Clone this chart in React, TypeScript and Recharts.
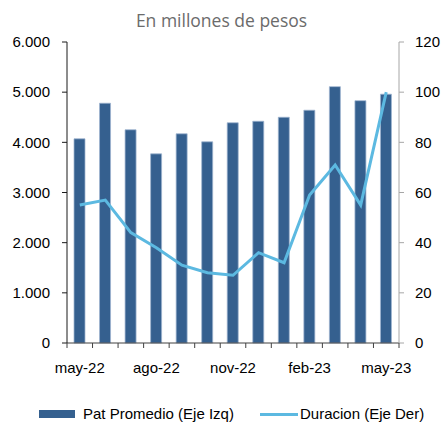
import { ComposedChart, Bar, Line, XAxis, YAxis } from "recharts";

const months = [
  "may-22", "jun-22", "jul-22", "ago-22", "sep-22", "oct-22", "nov-22",
  "dic-22", "ene-23", "feb-23", "mar-23", "abr-23", "may-23",
];
const patPromedio = [4070, 4780, 4250, 3770, 4170, 4010, 4390, 4420, 4500, 4640, 5110, 4830, 4960];
const duracion = [55, 57, 44, 38, 31, 28, 27, 36, 32, 59, 71, 55, 100];
const leftTicks = [0, 1000, 2000, 3000, 4000, 5000, 6000];
const rightTicks = [0, 20, 40, 60, 80, 100, 120];
const labeledMonths = ["may-22", "ago-22", "nov-22", "feb-23", "may-23"];

const data = months.map((m, i) => ({ month: m, pat: patPromedio[i], dur: duracion[i] }));

const W = 443;
const H = 424;
const LEFT_W = 67;
const RIGHT_W = 44;
const band = (W - LEFT_W - RIGHT_W) / months.length;
const font = "'Liberation Sans', Arial, sans-serif";

const BAR_COLOR = "#35608f";
const LINE_COLOR = "#5cb9e1";

function MonthTick(props: any) {
  const { x, y, payload } = props;
  const i = months.indexOf(payload.value);
  const axisY = y - 19;
  const left = x - band / 2;
  return (
    <g>
      <line x1={left} x2={left} y1={axisY} y2={axisY + 5} stroke="#404040" />
      {i === months.length - 1 && (
        <line x1={x + band / 2} x2={x + band / 2} y1={axisY} y2={axisY + 5} stroke="#404040" />
      )}
      {labeledMonths.includes(payload.value) && (
        <text x={x} y={y} dy="0.71em" textAnchor="middle" fill="#000" fontSize={15} fontFamily={font}>
          {payload.value}
        </text>
      )}
    </g>
  );
}

const fmt = (v: number) => v.toLocaleString("de-DE");

export default function App() {
  return (
    <div style={{ position: "absolute", left: 0, top: 0, width: W, height: H, background: "#fff" }}>
      <div
        style={{
          position: "absolute",
          top: 8,
          left: 0,
          width: W,
          textAlign: "center",
          fontFamily: "'Open Sans', sans-serif",
          fontSize: 17.5,
          color: "#6b6b6b",
          lineHeight: "normal",
        }}
      >
        En millones de pesos
      </div>
      <ComposedChart
        width={W}
        height={H}
        data={data}
        margin={{ top: 42, right: 0, left: 0, bottom: 51 }}
        barCategoryGap={0}
      >
        <XAxis
          dataKey="month"
          interval={0}
          height={30}
          tickSize={5}
          tickMargin={14}
          tickLine={false}
          axisLine={{ stroke: "#404040" }}
          tick={<MonthTick />}
        />
        <YAxis
          yAxisId="left"
          width={LEFT_W}
          domain={[0, 6000]}
          ticks={leftTicks}
          tickFormatter={fmt}
          tickSize={5}
          tickMargin={12}
          axisLine={{ stroke: "#1a1a1a" }}
          tickLine={{ stroke: "#1a1a1a" }}
          tick={{ fill: "#000", fontSize: 15, fontFamily: font }}
        />
        <YAxis
          yAxisId="right"
          orientation="right"
          width={RIGHT_W}
          domain={[0, 120]}
          ticks={rightTicks}
          tickSize={5}
          tickMargin={11}
          axisLine={{ stroke: "#a6a6a6" }}
          tickLine={{ stroke: "#a6a6a6" }}
          tick={{ fill: "#000", fontSize: 15, fontFamily: font, textAnchor: "start" }}
        />
        <Bar
          yAxisId="left"
          dataKey="pat"
          barSize={11}
          fill={BAR_COLOR}
          stroke="#9fb4d0"
          strokeWidth={0.75}
          isAnimationActive={false}
        />
        <Line
          yAxisId="right"
          dataKey="dur"
          type="linear"
          stroke={LINE_COLOR}
          strokeWidth={3}
          dot={false}
          isAnimationActive={false}
        />
      </ComposedChart>
      <div
        style={{
          position: "absolute",
          top: 405,
          left: 0,
          width: W,
          height: 18,
          fontFamily: font,
          fontSize: 15,
          color: "#000",
        }}
      >
        <div style={{ position: "absolute", left: 39, top: 5, width: 36, height: 8, background: BAR_COLOR }} />
        <div style={{ position: "absolute", left: 83, top: 0, whiteSpace: "nowrap" }}>Pat Promedio (Eje Izq)</div>
        <div style={{ position: "absolute", left: 260, top: 8, width: 38, height: 3, background: LINE_COLOR }} />
        <div style={{ position: "absolute", left: 300, top: 0, whiteSpace: "nowrap" }}>Duracion (Eje Der)</div>
      </div>
    </div>
  );
}
